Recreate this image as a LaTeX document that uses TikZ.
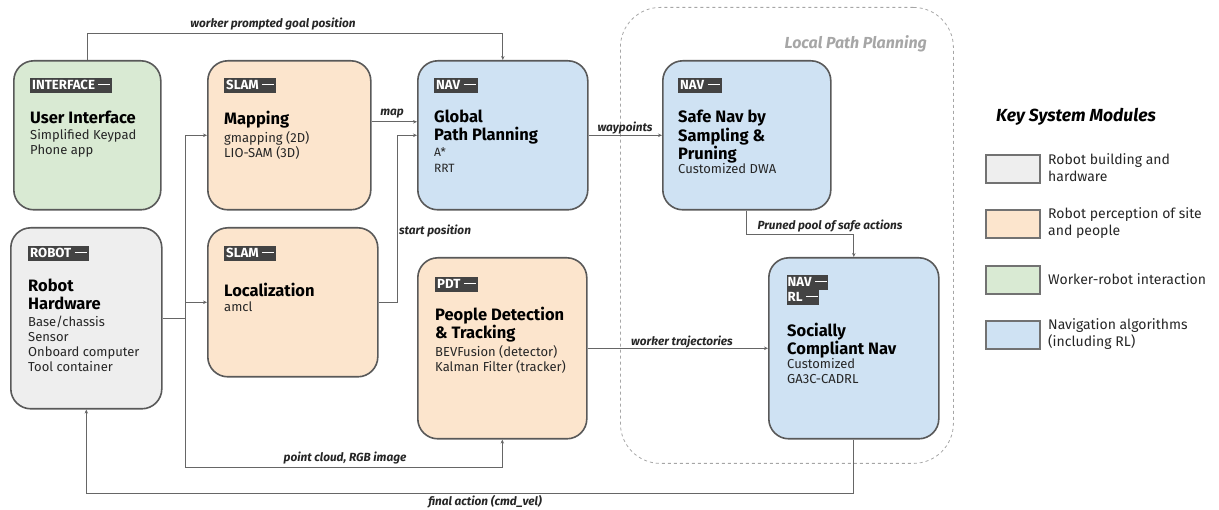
\documentclass[tikz,border=0pt]{standalone}
\usepackage{fontspec}
\setmainfont{Fira Sans}
\usetikzlibrary{arrows.meta}

\definecolor{edge}{HTML}{595959}
\definecolor{wire}{HTML}{666666}
\definecolor{tagc}{HTML}{434343}
\definecolor{fillgray}{HTML}{EEEEEE}
\definecolor{fillorange}{HTML}{FCE5CD}
\definecolor{fillgreen}{HTML}{D9EAD3}
\definecolor{fillblue}{HTML}{CFE2F3}
\definecolor{regiongray}{HTML}{A6A6A6}

% multi-line nodes below are anchored at the baseline of their last line
\newcommand\ttlfont{\fontsize{16.5}{18.5}\selectfont\bfseries}
\newcommand\bdyfont{\fontsize{13}{15}\selectfont}
\newcommand\tagfont{\fontsize{13.2}{14}\selectfont\bfseries}
\newcommand\lblfont{\fontsize{11.8}{13}\selectfont\bfseries\itshape}
% white bar that closes each category tag
\newcommand\tagbar{\hspace{3.5pt}\rule[3.8pt]{12pt}{1.4pt}}

\tikzset{
  module/.style={draw=edge, line width=1.6pt, rounded corners=20pt, anchor=north west, inner sep=0pt},
  tagbox/.style={fill=tagc, text=white, font=\tagfont, anchor=north west,
    inner xsep=2pt, inner ysep=0pt, text height=9.5pt, text depth=2.5pt, minimum height=15pt},
  ttl/.style={font=\ttlfont, anchor=base west, align=left, inner sep=0pt, text=black},
  bdy/.style={font=\bdyfont, anchor=base west, align=left, inner sep=0pt, text=black!85},
  conn/.style={draw=wire, line width=0.8pt, -{Stealth[length=4pt,width=3.5pt]}},
  lbl/.style={font=\lblfont, inner sep=0pt, text=black!85},
  keybox/.style={draw=edge!85, line width=1.6pt, anchor=north west, minimum width=54pt, minimum height=28pt, inner sep=0pt},
  keytxt/.style={font=\fontsize{14}{17}\selectfont, anchor=west, align=left, inner sep=0pt, text=black!85}
}

\begin{document}
\begin{tikzpicture}[x=1pt, y=-1pt]
\useasboundingbox (0,0) rectangle (1219,510);

% local path planning region
\node[draw=regiongray, dashed, line width=0.8pt, rounded corners=40pt, anchor=north west,
      minimum width=333pt, minimum height=456pt, inner sep=0pt] (lpp) at (620,7) {};
\node[font=\fontsize{16}{18}\selectfont\bfseries\itshape, text=regiongray, anchor=base east, inner sep=0pt]
      (lppTitle) at (927,49) {Local Path Planning};

% ---- modules ----
\node[module, fill=fillgreen, minimum width=147pt, minimum height=149pt] (ui) at (13,60) {};
\node[tagbox] (uiTag) at (30,78) {INTERFACE\tagbar};
\node[ttl] (uiTtl) at (30,124) {User Interface};
\node[bdy] (uiBdy) at (30,155) {Simplified Keypad\\Phone app};

\node[module, fill=fillorange, minimum width=163pt, minimum height=149pt] (map) at (207,60) {};
\node[tagbox] (mapTag) at (224,78) {SLAM\tagbar};
\node[ttl] (mapTtl) at (224,125) {Mapping};
\node[bdy] (mapBdy) at (224,158) {gmapping (2D)\\LIO-SAM (3D)};

\node[module, fill=fillblue, minimum width=170pt, minimum height=149pt] (gpp) at (417,60) {};
\node[tagbox] (gppTag) at (434,78) {NAV\tagbar};
\node[ttl] (gppTtl) at (434,141) {Global\\Path Planning};
\node[bdy, font=\fontsize{12}{15.5}\selectfont] (gppBdy) at (434,172.5) {A*\\RRT};

\node[module, fill=fillblue, minimum width=168pt, minimum height=149pt] (safe) at (662,60) {};
\node[tagbox] (safeTag) at (678,78) {NAV\tagbar};
\node[ttl] (safeTtl) at (678,160) {Safe Nav by\\Sampling \&\\Pruning};
\node[bdy] (safeBdy) at (678,174) {Customized DWA};

\node[module, fill=fillgray, minimum width=151pt, minimum height=181pt] (robot) at (10,227) {};
\node[tagbox] (robotTag) at (28,246) {ROBOT\tagbar};
\node[ttl] (robotTtl) at (28,310) {Robot\\Hardware};
\node[bdy] (robotBdy) at (28,372) {Base/chassis\\Sensor\\Onboard computer\\Tool container};

\node[module, fill=fillorange, minimum width=170pt, minimum height=149pt] (loc) at (207,227) {};
\node[tagbox] (locTag) at (224,246) {SLAM\tagbar};
\node[ttl] (locTtl) at (224,297) {Localization};
\node[bdy] (locBdy) at (224,312) {amcl};

\node[module, fill=fillorange, minimum width=169pt, minimum height=181pt] (pdt) at (417,257) {};
\node[tagbox] (pdtTag) at (435,277) {PDT\tagbar};
\node[ttl] (pdtTtl) at (435,339) {People Detection\\\& Tracking};
\node[bdy] (pdtBdy) at (435,372) {BEVFusion (detector)\\Kalman Filter (tracker)};

\node[module, fill=fillblue, minimum width=170pt, minimum height=181pt] (soc) at (768,257) {};
\node[tagbox, inner xsep=0.5pt] (socTagA) at (787,275) {NAV\tagbar};
\node[tagbox, inner xsep=0.5pt] (socTagB) at (787,290) {RL\tagbar};
\node[ttl] (socTtl) at (787,355) {Socially\\Compliant Nav};
\node[bdy] (socBdy) at (787,384) {Customized\\GA3C-CADRL};

% ---- connectors ----
\draw[conn] (ui.north) -- ++(0,-27) -| (gpp.north);
\node[lbl] (lGoal) at (273,24) {worker prompted goal position};

\draw[conn] ([yshift=13.5pt]map.east) -- ([yshift=13.5pt]gpp.west);
\node[lbl] (lMap) at (392,114) {map};

\draw[conn] (loc.east) -- ++(19,0) |- (gpp.west);
\node[lbl] (lStart) at (435,231) {start position};

\draw[conn] (robot.east) -- ++(23,0) |- (map.west);
\draw[conn] (robot.east) ++(23,0) |- (loc.west);
\draw[conn] (robot.east) ++(23,0) -- ++(0,149) -| (pdt.south);
\node[lbl] (lCloud) at (345,458) {point cloud, RGB image};

\draw[conn] (gpp.east) -- (safe.west);
\node[lbl] (lWay) at (625,128) {waypoints};

\draw[conn] (safe.south) -- ++(0,24) -| (soc.north);
\node[lbl] (lPruned) at (830,226) {Pruned pool of safe actions};

\draw[conn] (pdt.east) -- (soc.west);
\node[lbl] (lTraj) at (682,342) {worker trajectories};

\draw[conn] (soc.south) -- ++(0,54) -| (robot.south);
\node[lbl] (lFinal) at (485,502) {final action (cmd\_vel)};

% ---- legend ----
\node[font=\fontsize{17.5}{20}\selectfont\bfseries\itshape, anchor=base west, inner sep=0pt] (keyTitle) at (996,122) {Key System Modules};
\node[keybox, fill=fillgray] (k1) at (985,154) {};
\node[keytxt] (k1t) at (1048,168) {Robot building and\\hardware};
\node[keybox, fill=fillorange] (k2) at (985,209) {};
\node[keytxt] (k2t) at (1048,223) {Robot perception of site\\and people};
\node[keybox, fill=fillgreen] (k3) at (985,265) {};
\node[keytxt] (k3t) at (1048,279) {Worker-robot interaction};
\node[keybox, fill=fillblue] (k4) at (985,320) {};
\node[keytxt] (k4t) at (1048,334) {Navigation algorithms\\(including RL)};
\end{tikzpicture}
\end{document}
